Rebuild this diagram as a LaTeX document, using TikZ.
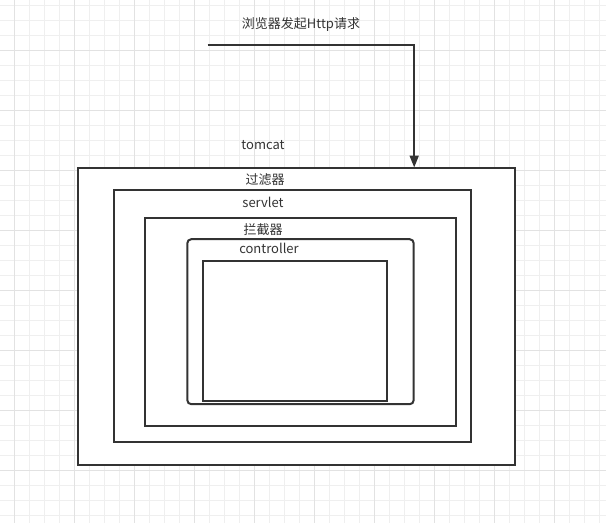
\documentclass[tikz,border=0pt]{standalone}
\usepackage{fontspec}
\setmainfont{Noto Sans CJK SC}
\usetikzlibrary{positioning, arrows.meta}
\definecolor{ink}{HTML}{333333}
\definecolor{gridminor}{HTML}{EFEFEF}
\definecolor{gridmajor}{HTML}{E2E2E2}
\tikzstyle{frame} = [rectangle, draw=ink, line width=2pt, fill=white, inner sep=0pt]
\tikzstyle{roundframe} = [frame, rounded corners=4pt]
\tikzstyle{label} = [text=ink, font=\fontsize{13}{15}\selectfont, inner sep=1pt]
\tikzstyle{arrow} = [draw=ink, line width=2pt, -{Triangle[length=12pt,width=9pt]}]

\begin{document}
\begin{tikzpicture}[x=1pt, y=-1pt]
    		%背景网格
    		\useasboundingbox[fill=white] (0,0) rectangle (606,523);
    		\foreach \gx in {14,29,...,599} \draw[gridminor, line width=1pt] (\gx,0) -- (\gx,523);
    		\foreach \gy in {5,20,...,515} \draw[gridminor, line width=1pt] (0,\gy) -- (606,\gy);
    		\foreach \gx in {14,74,...,554} \draw[gridmajor, line width=1pt] (\gx,0) -- (\gx,523);
    		\foreach \gy in {50,110,...,470} \draw[gridmajor, line width=1pt] (0,\gy) -- (606,\gy);
    		
    		%各层容器
    		\node (tomcat) [frame, minimum width=437pt, minimum height=297pt] at (296.4,316.7) {};
    		\node (filter) [frame, minimum width=357pt, minimum height=252.5pt] at (292.4,316.2) {};
    		\node (servlet) [frame, minimum width=311pt, minimum height=207.4pt] at (300.5,322) {};
    		\node (interceptor) [roundframe, minimum width=226.4pt, minimum height=165pt] at (300.5,321.7) {};
    		\node (controller) [frame, minimum width=183.4pt, minimum height=140pt] at (295,331) {};
    		
    		%文字
    		\node (request) [label] at (301,24) {浏览器发起Http请求};
    		\node (tomcatlabel) [label] at (263,145.5) {tomcat};
    		\node (filterlabel) [label] at (265,180) {过滤器};
    		\node (servletlabel) [label] at (263,202.5) {servlet};
    		\node (interceptorlabel) [label] at (263,229.5) {拦截器};
    		\node (controllerlabel) [label] at (269,248) {controller};
    		
    		%请求箭头
    		\coordinate (reqstart) at (207.5,44.7);
    		\coordinate (entry) at (414.2,167.5);
    		\draw [arrow] (reqstart) -| (entry);
    	\end{tikzpicture}
\end{document}
